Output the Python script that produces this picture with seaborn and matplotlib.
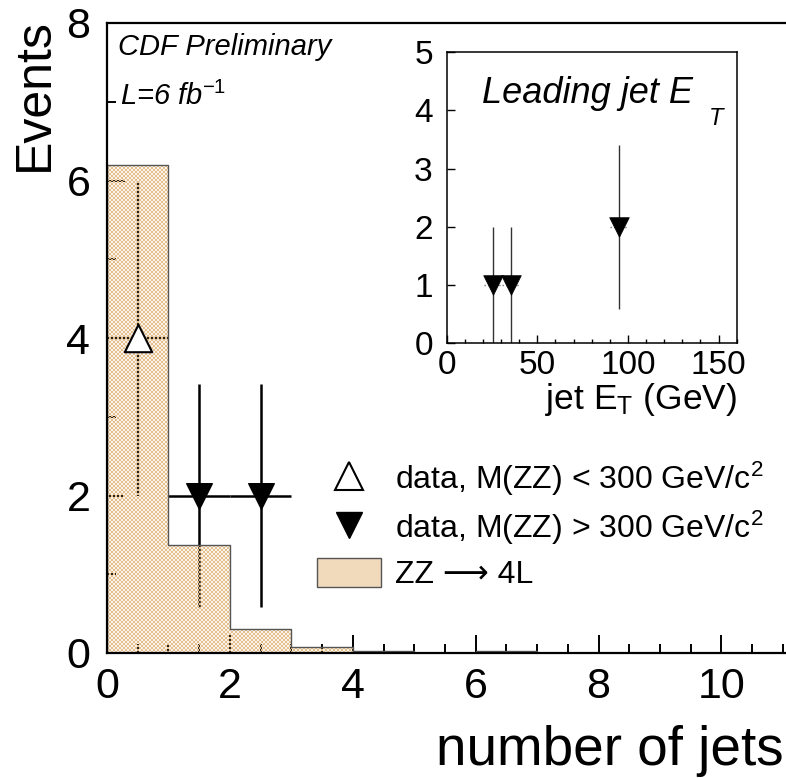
import numpy as np
import pandas as pd
import matplotlib
matplotlib.use("Agg")
import matplotlib.pyplot as plt
import seaborn as sns
from matplotlib.lines import Line2D
from matplotlib.patches import Patch
from matplotlib.ticker import MultipleLocator

# ZZ -> 4L expectation per jet-multiplicity bin
bin_edges = [0, 1, 2, 3, 4, 5, 6, 7]
zz_expected = [6.2, 1.37, 0.30, 0.08, 0.025, 0.0, 0.02]

# observed events, split by four-lepton mass
low_mass_njets = [0.5]
low_mass_events = [4]
low_mass_err = [2.0]
high_mass_njets = [1.5, 2.5]
high_mass_events = [2, 2]
high_mass_err = [1.41, 1.41]
njet_halfwidth = 0.5

# leading jet E_T of the high-mass events
lead_jet_et = [25.5, 35.5, 95.0]
lead_jet_events = [1, 1, 2]
lead_jet_err = [1.0, 1.0, 1.41]
et_halfwidth = 5.0

main_xticks = [0, 2, 4, 6, 8, 10]
main_yticks = [0, 2, 4, 6, 8]
inset_xticks = [0, 50, 100, 150]
inset_yticks = [0, 1, 2, 3, 4, 5]

sns.set_style("white")
plt.rcParams["font.family"] = ["Liberation Sans", "DejaVu Sans"]
plt.rcParams["mathtext.fontset"] = "custom"
plt.rcParams["mathtext.rm"] = "Liberation Sans"
plt.rcParams["mathtext.it"] = "Liberation Sans:italic"
plt.rcParams["mathtext.bf"] = "Liberation Sans:bold"
for key in ["text.color", "axes.labelcolor", "xtick.color", "ytick.color",
            "axes.edgecolor"]:
    plt.rcParams[key] = "black"

TAN = "#e5c08c"
LIGHT_ALPHA = 0.18
W, H = 786, 778
fig = plt.figure(figsize=(W / 100, H / 100), dpi=100)

# axes placed on whole pixels so the texture lines up with the pixel grid
ax_l, ax_b, ax_w, ax_h = 107, 125, 679, 630
ax = fig.add_axes([ax_l / W, ax_b / H, ax_w / W, ax_h / H])
XMAX, YMAX = 11.05, 8.0

# expectation histogram (step outline), filled below with a checker texture
centers = [e + 0.5 for e in bin_edges[:-1]]
hist_df = pd.DataFrame({"njets": centers, "w": zz_expected})
sns.histplot(data=hist_df, x="njets", weights="w", bins=bin_edges,
             element="step", fill=True, color=TAN, edgecolor="#555555",
             linewidth=1.0, alpha=1, ax=ax, legend=False)
poly = ax.collections[-1]
poly.set_facecolor("none")
poly.set_zorder(2.4)

px_x = ax_w / XMAX
px_y = ax_h / YMAX
cols = int(np.ceil(bin_edges[-1] * px_x)) + 2
rows = int(np.ceil((max(zz_expected) + 0.1) * px_y)) + 2
ii, jj = np.indices((rows, cols))
tan_rgb = np.array(matplotlib.colors.to_rgb(TAN))
tex = np.zeros((rows, cols, 4))
tex[..., :3] = tan_rgb
tex[..., 3] = np.where(((ii // 2) + (jj // 2)) % 2 == 0, 1.0, LIGHT_ALPHA)
im = ax.imshow(tex, extent=[0, cols / px_x, 0, rows / px_y], origin="lower",
               interpolation="nearest", aspect="auto", zorder=2.2)
im.set_clip_path(poly.get_paths()[0], ax.transData)

# average tone of the texture, used for the legend swatch
mean_alpha = (1.0 + LIGHT_ALPHA) / 2
swatch = tuple(mean_alpha * tan_rgb + (1 - mean_alpha) * np.ones(3))

# data error bars (drawn beneath the texture, markers on top)
ax.errorbar(low_mass_njets, low_mass_events, yerr=low_mass_err,
            xerr=njet_halfwidth, fmt="none", ecolor="black", elinewidth=1.6,
            capsize=0, zorder=2)
ax.errorbar(high_mass_njets, high_mass_events, yerr=high_mass_err,
            xerr=njet_halfwidth, fmt="none", ecolor="black", elinewidth=1.8,
            capsize=0, zorder=2)
sns.scatterplot(x=low_mass_njets, y=low_mass_events, marker="^", s=390,
                color="white", edgecolor="black", linewidth=1.5, ax=ax,
                zorder=4, legend=False)
sns.scatterplot(x=high_mass_njets, y=high_mass_events, marker="v", s=340,
                color="black", edgecolor="black", linewidth=1.0, ax=ax,
                zorder=4, legend=False)

ax.set_xlim(0, XMAX)
ax.set_ylim(0, YMAX)
ax.set_xticks(main_xticks)
ax.set_yticks(main_yticks)
ax.xaxis.set_minor_locator(MultipleLocator(0.5))
ax.yaxis.set_minor_locator(MultipleLocator(1))
ax.set_xlabel("")
ax.set_ylabel("")
ax.tick_params(which="both", direction="in", width=1.4, colors="black",
               labelsize=31, bottom=True, left=True, top=False, right=False)
ax.tick_params(which="major", length=13)
ax.tick_params(which="minor", length=6.5)
ax.tick_params(axis="y", pad=12)
ax.tick_params(axis="x", pad=10)
for side in ["left", "bottom", "top"]:
    ax.spines[side].set_linewidth(1.6)
    ax.spines[side].set_color("black")
ax.spines["right"].set_visible(False)

fig.text(35 / W, 1 - 18 / H, "Events", rotation=90, ha="center", va="top",
         fontsize=36)
fig.text(1 - 2 / W, 1 - 765 / H, "number of jets", ha="right", va="baseline",
         fontsize=39.5)
fig.text(118 / W, 1 - 55 / H, "CDF Preliminary", style="italic",
         ha="left", va="baseline", fontsize=21)
fig.text(120 / W, 1 - 105 / H, r"L=6 fb$^{\mathit{-1}}$", style="italic",
         ha="left", va="baseline", fontsize=21)

handles = [
    Line2D([], [], marker="^", linestyle="none", markersize=19.5,
           markerfacecolor="white", markeredgecolor="black", markeredgewidth=1.5),
    Line2D([], [], marker="v", linestyle="none", markersize=18.5,
           markerfacecolor="black", markeredgecolor="black"),
    Patch(facecolor=swatch, edgecolor="#555555", linewidth=1.0),
]
labels = [r"data, M(ZZ) < 300 GeV/c$^{2}$", r"data, M(ZZ) > 300 GeV/c$^{2}$",
          "ZZ \u27f6 4L"]
fig.legend(handles, labels, loc="upper left",
           bbox_to_anchor=(317 / W, 1 - 460 / H), bbox_transform=fig.transFigure,
           frameon=False, fontsize=23, handlelength=2.0, handleheight=1.05,
           handletextpad=0.45, labelspacing=0.33, borderpad=0, borderaxespad=0)

# inset: leading jet E_T
ax2 = fig.add_axes([446.7 / W, 1 - 343.3 / H, 290 / W, 291 / H])
eb = ax2.errorbar(lead_jet_et, lead_jet_events, xerr=et_halfwidth, fmt="none",
                  ecolor="#777777", elinewidth=1.0, capsize=0, zorder=2)
eb[2][0].set_linestyle(":")
ax2.errorbar(lead_jet_et, lead_jet_events, yerr=lead_jet_err, fmt="none",
             ecolor="#333333", elinewidth=1.0, capsize=0, zorder=2)
sns.scatterplot(x=lead_jet_et, y=lead_jet_events, marker="v", s=200,
                color="black", edgecolor="black", linewidth=0.5, ax=ax2,
                zorder=3, legend=False)
ax2.set_xlim(0, 160)
ax2.set_ylim(0, 5)
ax2.set_xticks(inset_xticks)
ax2.set_yticks(inset_yticks)
ax2.xaxis.set_minor_locator(MultipleLocator(10))
ax2.tick_params(which="both", direction="in", width=1.0, colors="black",
                labelsize=24, bottom=True, left=True, top=False, right=False)
ax2.tick_params(which="major", length=6)
ax2.tick_params(which="minor", length=3)
ax2.tick_params(axis="y", pad=10)
ax2.tick_params(axis="x", pad=5)
for side in ax2.spines:
    ax2.spines[side].set_linewidth(1.1)
    ax2.spines[side].set_color("black")
ax2.set_xlabel(r"jet E$_\mathregular{T}$ (GeV)", fontsize=25.5, loc="right",
               labelpad=0)
ax2.set_ylabel("")
fig.text(481.7 / W, 1 - 103 / H, "Leading jet E", style="italic",
         ha="left", va="baseline", fontsize=26)
fig.text(709 / W, 1 - 125 / H, "T", style="italic",
         ha="left", va="baseline", fontsize=17)

fig.savefig("out.png", dpi=100, facecolor="white")
